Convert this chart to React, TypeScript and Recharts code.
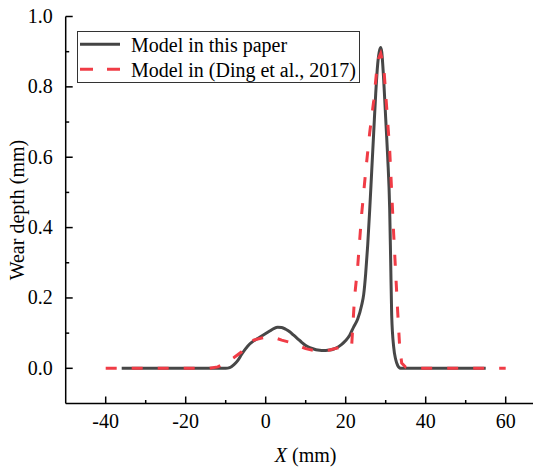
import React from "react"
import { LineChart, Line, XAxis, YAxis } from "recharts"

// Model in this paper (solid)
const xPaper = [
  -36, -20, -12, -10, -9, -8, -7, -6, -5, -4, -3, -2, -1, 0, 1, 2, 3, 4, 5, 6, 7, 8, 9, 10,
  11, 12, 13, 14, 15, 16, 17, 18, 19, 20, 21, 22, 23, 24, 24.5, 25, 25.5, 26, 26.5, 27,
  27.5, 28, 28.5, 28.75, 29, 29.5, 30, 30.5, 31, 31.25, 31.5, 32, 32.5, 33, 33.5, 34, 40, 55,
]
const wearPaper = [
  0, 0, 0, 0, 0.002, 0.01, 0.022, 0.04, 0.056, 0.069, 0.078, 0.085, 0.092, 0.099, 0.106,
  0.113, 0.117, 0.116, 0.111, 0.104, 0.094, 0.084, 0.074, 0.065, 0.059, 0.055, 0.052, 0.051,
  0.051, 0.052, 0.055, 0.06, 0.068, 0.079, 0.094, 0.118, 0.14, 0.18, 0.21, 0.27, 0.35, 0.45,
  0.56, 0.67, 0.78, 0.865, 0.905, 0.912, 0.9, 0.82, 0.71, 0.6, 0.45, 0.3, 0.15, 0.06, 0.025,
  0.008, 0.001, 0, 0, 0,
]

// Model in (Ding et al., 2017) (dashed)
const xDing = [
  -40, -20, -14, -12, -10, -8, -6, -4, -3, -1, 1, 2, 4, 6, 8, 10, 12, 14, 16, 18, 20, 21.5,
  22.2, 23, 24, 25, 26, 27, 28, 28.75, 29.5, 30, 31, 32, 33, 33.5, 34, 35, 36, 60,
]
const wearDing = [
  0, 0, 0, 0.004, 0.015, 0.03, 0.047, 0.068, 0.08, 0.086, 0.09, 0.088, 0.08, 0.074, 0.065,
  0.056, 0.051, 0.05, 0.052, 0.058, 0.062, 0.066, 0.2, 0.29, 0.44, 0.56, 0.67, 0.76, 0.875,
  0.895, 0.86, 0.78, 0.62, 0.38, 0.16, 0.06, 0.015, 0.003, 0, 0,
]

const xTicks = [-40, -30, -20, -10, 0, 10, 20, 30, 40, 50, 60]
const yTicks = [0, 0.1, 0.2, 0.3, 0.4, 0.5, 0.6, 0.7, 0.8, 0.9, 1.0]

const paperData = xPaper.map((x, i) => ({ x, y: wearPaper[i] }))
const dingData = xDing.map((x, i) => ({ x, y: wearDing[i] }))

const FONT = "Liberation Serif, Tinos, DejaVu Serif, serif"
const txt = { fontFamily: FONT, fontSize: 20 }

function XTick(props: any) {
  const { x, y, payload } = props
  const major = Math.round(payload.value) % 20 === 0
  return (
    <g>
      <line x1={x} x2={x} y1={y} y2={y - (major ? 7 : 3.5)} stroke="#000" strokeWidth={1.5} />
      {major && (
        <text x={x} y={y + 24} textAnchor="middle" style={txt} fill="#000">
          {payload.value}
        </text>
      )}
    </g>
  )
}

function YTick(props: any) {
  const { x, y, payload } = props
  const major = Math.round(payload.value * 10) % 2 === 0
  return (
    <g>
      <line x1={x} x2={x + (major ? 7 : 3.5)} y1={y} y2={y} stroke="#000" strokeWidth={1.5} />
      {major && (
        <text x={x - 13} y={y + 6.5} textAnchor="end" style={txt} fill="#000">
          {payload.value.toFixed(1)}
        </text>
      )}
    </g>
  )
}

function LegendBox() {
  return (
    <div style={{ position: "absolute", left: 77, top: 31, width: 283, height: 52 }}>
      <svg width={283} height={52} style={{ display: "block" }}>
        <rect x={0.5} y={0.5} width={282} height={51} fill="#fff" stroke="#333" strokeWidth={1} />
        <line x1={3} x2={43} y1={13.3} y2={13.3} stroke="#444" strokeWidth={3} />
        <text x={54} y={20.5} style={txt} fill="#000">
          Model in this paper
        </text>
        <line x1={3} x2={43} y1={38.3} y2={38.3} stroke="#f03c46" strokeWidth={3} strokeDasharray="13 14" />
        <text x={54} y={45.5} style={txt} fill="#000">
          Model in (Ding et al., 2017)
        </text>
      </svg>
    </div>
  )
}

export default function App() {
  return (
    <div
      style={{
        position: "relative",
        margin: "-8px 0 0 -8px",
        width: 541,
        height: 470,
        overflow: "hidden",
        fontFamily: FONT,
      }}
    >
      <LineChart
        width={548}
        height={468}
        margin={{ top: 16.5, right: 2.3, left: 15.7, bottom: 4.5 }}
      >
        <XAxis
          type="number"
          dataKey="x"
          domain={[-50, 70]}
          ticks={xTicks}
          tick={XTick}
          tickLine={false}
          tickSize={0}
          tickMargin={0}
          height={60}
          axisLine={{ stroke: "#000", strokeWidth: 1.5 }}
          allowDuplicatedCategory={false}
          label={{
            content: (p: any) => {
              const vb = p.viewBox
              return (
                <text x={vb.x + vb.width / 2} y={vb.y + 58.5} textAnchor="middle" style={txt} fill="#000">
                  <tspan fontStyle="italic">X</tspan> (mm)
                </text>
              )
            },
          }}
        />
        <YAxis
          type="number"
          dataKey="y"
          domain={[-0.1, 1.0]}
          ticks={yTicks}
          tick={YTick}
          tickLine={false}
          tickSize={0}
          tickMargin={0}
          width={50}
          axisLine={{ stroke: "#000", strokeWidth: 1.5 }}
          label={{
            content: (p: any) => {
              const vb = p.viewBox
              const cy = vb.y + vb.height / 2
              return (
                <text
                  x={24}
                  y={cy}
                  transform={`rotate(-90, 24, ${cy})`}
                  textAnchor="middle"
                  style={txt}
                  fill="#000"
                >
                  Wear depth (mm)
                </text>
              )
            },
          }}
        />
        <Line
          data={paperData}
          dataKey="y"
          type="monotone"
          stroke="#474747"
          strokeWidth={3}
          dot={false}
          activeDot={false}
          isAnimationActive={false}
        />
        <Line
          data={dingData}
          dataKey="y"
          type="linear"
          stroke="#f03c46"
          strokeWidth={3}
          strokeDasharray="11 15"
          dot={false}
          activeDot={false}
          isAnimationActive={false}
        />
      </LineChart>
      <LegendBox />
    </div>
  )
}
